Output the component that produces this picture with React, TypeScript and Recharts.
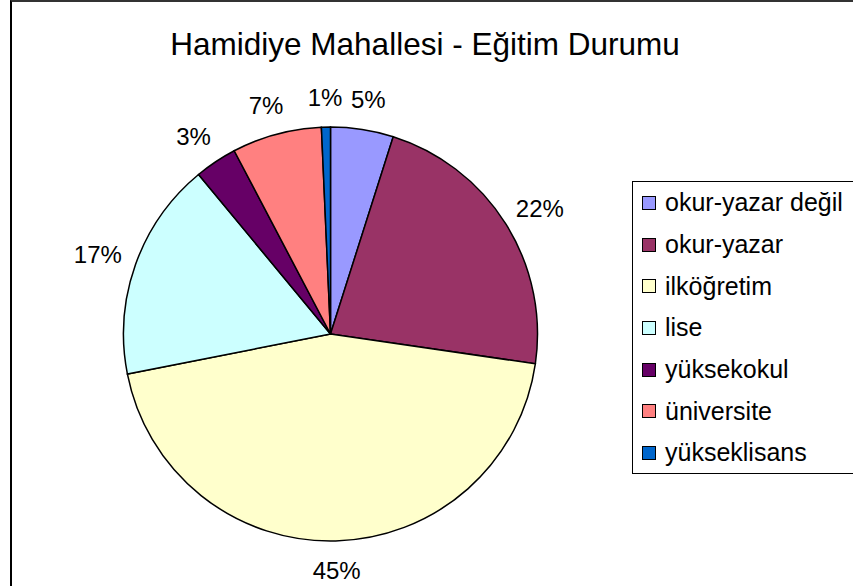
import { Cell, Legend, Pie, PieChart } from "recharts";

const categories = [
	"okur-yazar değil",
	"okur-yazar",
	"ilköğretim",
	"lise",
	"yüksekokul",
	"üniversite",
	"yükseklisans",
];
const shares = [4.9, 22.4, 44.6, 17.1, 3.3, 7.0, 0.7];
const colors = ["#9999FF", "#993366", "#FFFFCC", "#CCFFFF", "#660066", "#FF8080", "#0066CC"];

const chartData = categories.map((name, i) => ({ name, value: shares[i] }));

const FONT = "'Liberation Sans', Arial, sans-serif";
const RADIAN = Math.PI / 180;

function renderLabel(props: any) {
	const { cx, cy, midAngle, outerRadius, percent } = props;
	const x = cx + (outerRadius + 40) * Math.cos(-midAngle * RADIAN);
	const y = cy + (outerRadius + 30) * Math.sin(-midAngle * RADIAN);
	return (
		<text
			x={x}
			y={y}
			fill="#000"
			textAnchor="middle"
			dominantBaseline="central"
			fontSize={24}
			fontFamily={FONT}
		>
			{`${Math.round(percent * 100)}%`}
		</text>
	);
}

// legend keeps the data order (recharts would sort it by name)
function renderLegend() {
	return (
		<div
			style={{
				border: "1.5px solid #000",
				width: 240,
				height: 293,
				boxSizing: "border-box",
				paddingLeft: 9,
				fontFamily: FONT,
				fontSize: 25,
				background: "#fff",
			}}
		>
			{categories.map((name, i) => (
				<div
					key={name}
					style={{ display: "flex", alignItems: "center", height: 41.7, whiteSpace: "nowrap" }}
				>
					<span
						style={{
							display: "inline-block",
							width: 14,
							height: 14,
							background: colors[i],
							border: "1.5px solid #000",
							boxSizing: "border-box",
							marginRight: 9,
						}}
					/>
					<span>{name}</span>
				</div>
			))}
		</div>
	);
}

export default function App() {
	return (
		<div style={{ position: "absolute", left: 0, top: 0, width: 853, height: 586, overflow: "hidden", background: "#fff" }}>
			<div
				style={{
					position: "absolute",
					left: 10,
					top: 0,
					width: 900,
					height: 700,
					borderLeft: "2px solid #000",
					borderTop: "2px solid #333",
				}}
			/>
			<div
				style={{
					position: "absolute",
					left: 0,
					top: 26,
					width: 850,
					textAlign: "center",
					fontFamily: FONT,
					fontSize: 31.5,
					color: "#000",
				}}
			>
				Hamidiye Mahallesi - Eğitim Durumu
			</div>
			<PieChart width={853} height={586} style={{ position: "absolute", left: 0, top: 0 }}>
				<Pie
					data={chartData}
					dataKey="value"
					nameKey="name"
					cx={325.5}
					cy={329}
					outerRadius={207}
					startAngle={90}
					endAngle={-270}
					stroke="#000"
					strokeWidth={1.5}
					label={renderLabel}
					labelLine={false}
					isAnimationActive={false}
				>
					{chartData.map((d, i) => (
						<Cell key={d.name} fill={colors[i]} />
					))}
				</Pie>
				<Legend
					content={renderLegend}
					layout="vertical"
					wrapperStyle={{ position: "absolute", left: 632, top: 181, width: 240 }}
				/>
			</PieChart>
		</div>
	);
}
